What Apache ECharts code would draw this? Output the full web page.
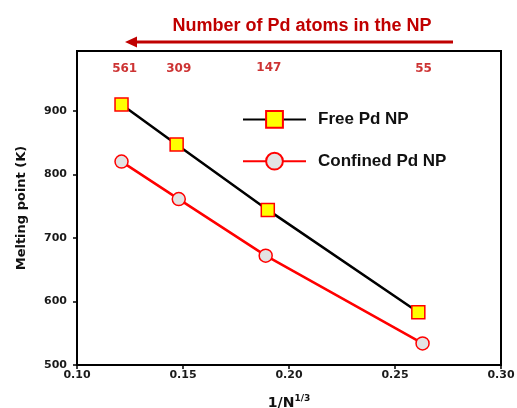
<!DOCTYPE html>
<html>
<head>
<meta charset="utf-8">
<script src="https://cdn.jsdelivr.net/npm/echarts@6/dist/echarts.min.js"></script>
<style>html,body{margin:0;padding:0;background:#fff;overflow:hidden}#c{width:517px;height:408px}</style>
</head>
<body>
<div id="c"></div>
<script>
// x = 1/N^(1/3)
var freeX = [0.121, 0.147, 0.190, 0.261];
var freeY = [910, 847, 744, 583];
var confinedX = [0.121, 0.148, 0.189, 0.263];
var confinedY = [820, 761, 672, 534];
var nAtoms = ['561', '309', '147', '55'];
var nAtomsX = [0.1225, 0.148, 0.1905, 0.2635];
var nAtomsY = [966, 966, 968, 966];
var yTicks = [500, 600, 700, 800, 900];
var xTicks = [0.10, 0.15, 0.20, 0.25, 0.30];

var DARKRED = '#c00000';
var chart = echarts.init(document.getElementById('c'));
chart.setOption({
  animation: false,
  backgroundColor: '#fff',
  title: {
    text: 'Number of Pd atoms in the NP',
    left: 297, top: 12, textAlign: 'center',
    textStyle: {color: DARKRED, fontFamily: 'Liberation Sans', fontWeight: 'bold', fontSize: 18}
  },
  graphic: [
    {type: 'line', shape: {x1: 453, y1: 42, x2: 134, y2: 42}, style: {stroke: DARKRED, lineWidth: 3}},
    {type: 'polygon', shape: {points: [[125, 42], [137, 36.5], [137, 47.5]]}, style: {fill: DARKRED}}
  ],
  grid: {left: 77, right: 16, top: 51, bottom: 43, show: true, borderColor: '#000', borderWidth: 2,
    containLabel: false, outerBoundsMode: 'none'},
  legend: {
    orient: 'vertical', left: 237, top: 105, itemWidth: 63, itemHeight: 21, itemGap: 23,
    data: ['Free Pd NP', 'Confined Pd NP'],
    textStyle: {fontFamily: 'Liberation Sans', fontWeight: 'bold', fontSize: 17, color: '#111', padding: [0, 0, 0, 7]}
  },
  xAxis: {
    type: 'value', min: 0.10, max: 0.30, interval: 0.05,
    axisLine: {lineStyle: {color: '#000', width: 2}},
    axisTick: {show: true, length: 4, lineStyle: {color: '#000', width: 1.5}},
    splitLine: {show: false},
    axisLabel: {formatter: function (v) { return v.toFixed(2); }, fontFamily: 'DejaVu Sans', fontWeight: 'bold', fontSize: 11, color: '#1a1a1a', margin: 5},
    name: '1/N{sup|1/3}', nameLocation: 'middle', nameGap: 29,
    nameTextStyle: {fontFamily: 'DejaVu Sans', fontWeight: 'bold', fontSize: 14, color: '#111',
      rich: {sup: {fontFamily: 'DejaVu Sans', fontWeight: 'bold', fontSize: 9, color: '#111', padding: [0, 0, 9, 0]}}}
  },
  yAxis: {
    type: 'value', min: 500, max: 994,
    axisLine: {lineStyle: {color: '#000', width: 2}},
    axisTick: {show: true, length: 4, customValues: yTicks, lineStyle: {color: '#000', width: 1.5}},
    splitLine: {show: false},
    axisLabel: {customValues: yTicks, fontFamily: 'DejaVu Sans', fontWeight: 'bold', fontSize: 11, color: '#1a1a1a', margin: 10},
    name: 'Melting point (K)', nameLocation: 'middle', nameGap: 49,
    nameTextStyle: {fontFamily: 'DejaVu Sans', fontWeight: 'bold', fontSize: 13, color: '#111'}
  },
  series: [
    {
      name: 'Free Pd NP', type: 'line', data: freeX.map(function (x, i) { return [x, freeY[i]]; }),
      symbol: 'rect', symbolSize: 13, z: 3,
      lineStyle: {color: '#000', width: 2.5},
      itemStyle: {color: '#ffff00', borderColor: '#ff0000', borderWidth: 1.5}
    },
    {
      name: 'Confined Pd NP', type: 'line', data: confinedX.map(function (x, i) { return [x, confinedY[i]]; }),
      symbol: 'circle', symbolSize: 13, z: 2,
      lineStyle: {color: '#ff0000', width: 2.5},
      itemStyle: {color: '#e3e3e3', borderColor: '#ff0000', borderWidth: 1.5}
    },
    {
      name: 'N', type: 'scatter', symbol: 'circle', symbolSize: 1, silent: true,
      itemStyle: {color: 'rgba(0,0,0,0)'},
      data: nAtomsX.map(function (x, i) { return {value: [x, nAtomsY[i]], label: {formatter: nAtoms[i]}}; }),
      label: {show: true, position: 'inside', color: DARKRED, fontFamily: 'DejaVu Sans', fontWeight: 'bold', fontSize: 12}
    }
  ]
});
</script>
</body>
</html>
